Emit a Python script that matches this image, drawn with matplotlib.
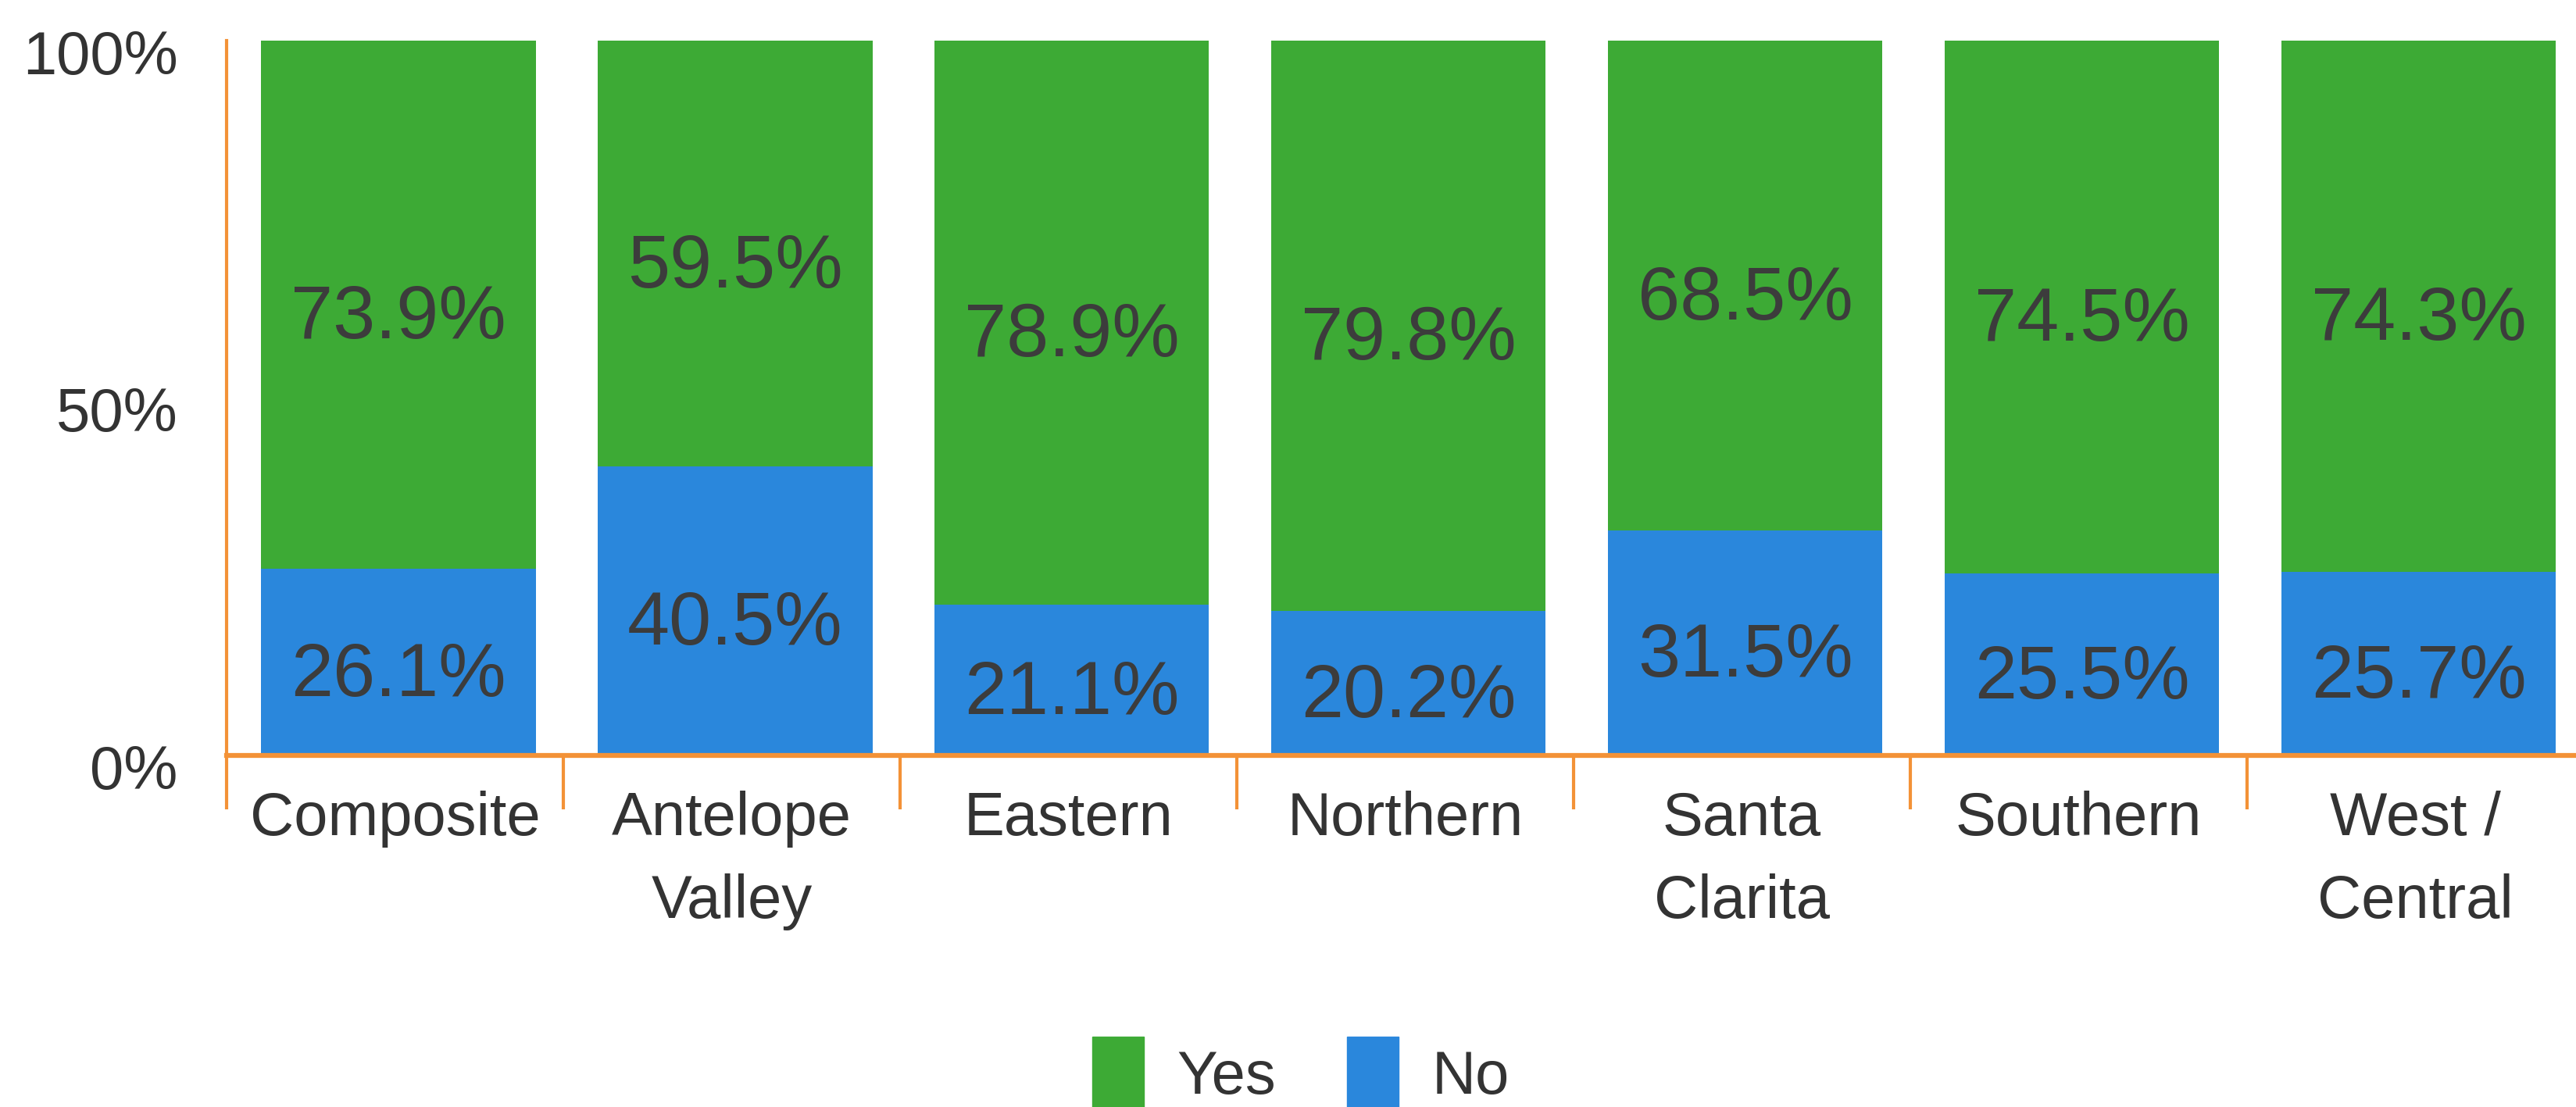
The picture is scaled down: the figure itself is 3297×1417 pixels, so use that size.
import matplotlib
matplotlib.use('Agg')
import matplotlib.pyplot as plt
import numpy as np
from matplotlib.patches import Patch
from matplotlib.ticker import FixedLocator
from matplotlib.transforms import ScaledTranslation

plt.rcParams['font.family'] = ['Liberation Sans', 'DejaVu Sans']

# data
regions = ['Composite', 'Antelope\nValley', 'Eastern', 'Northern',
           'Santa\nClarita', 'Southern', 'West /\nCentral']
yes_pct = [73.9, 59.5, 78.9, 79.8, 68.5, 74.5, 74.3]
no_pct = [26.1, 40.5, 21.1, 20.2, 31.5, 25.5, 25.7]

GREEN = '#3DAA35'
BLUE = '#2A87DC'
ORANGE = '#F39237'
TXT = '#333333'

fig = plt.figure(figsize=(32.97, 14.17), dpi=100)
ax = fig.add_axes([0.088, 0.3175, 0.915, 0.6455])

x = np.arange(len(regions))
w = 0.815
ax.bar(x + 0.01, no_pct, w, color=BLUE, label='No')
ax.bar(x + 0.01, yes_pct, w, bottom=no_pct, color=GREEN, label='Yes')

# value labels, nudged down a bit like the original
for i in range(len(regions)):
    ax.annotate(f'{no_pct[i]:.1f}%', (x[i] + 0.01, no_pct[i] / 2),
                xytext=(0, -13), textcoords='offset points',
                ha='center', va='center', fontsize=70, color='#3c3c3c')
    ax.annotate(f'{yes_pct[i]:.1f}%', (x[i] + 0.01, no_pct[i] + yes_pct[i] / 2),
                xytext=(0, -13), textcoords='offset points',
                ha='center', va='center', fontsize=70, color='#3c3c3c')

ax.set_xlim(-0.5, len(regions) - 0.5)
ax.set_ylim(0, 100)
ax.set_yticks([0, 50, 100])
ax.set_yticklabels(['0%', '50%', '100%'])
ax.set_xticks(x)
ax.set_xticklabels(regions, linespacing=1.58)
ax.xaxis.set_minor_locator(FixedLocator(np.arange(-0.5, len(regions), 1.0)))

ax.tick_params(axis='y', length=0, pad=45, labelsize=56, labelcolor=TXT)
ax.tick_params(axis='x', which='major', length=0, pad=32, labelsize=56, labelcolor=TXT)
ax.tick_params(axis='x', which='minor', length=50, width=3, color=ORANGE)

shift = ScaledTranslation(0, -0.14, fig.dpi_scale_trans)
for lab in ax.get_yticklabels():
    lab.set_transform(lab.get_transform() + shift)

for s in ['top', 'right']:
    ax.spines[s].set_visible(False)
ax.spines['bottom'].set_color(ORANGE)
ax.spines['bottom'].set_linewidth(4.5)
ax.spines['left'].set_color(ORANGE)
ax.spines['left'].set_linewidth(3)

handles = [Patch(color=GREEN, label='Yes'), Patch(color=BLUE, label='No')]
fig.legend(handles=handles, loc='center', bbox_to_anchor=(0.505, 0.03), ncol=2,
           frameon=False, fontsize=56, handlelength=0.85, handleheight=1.5,
           handletextpad=0.54, columnspacing=1.17, labelcolor=TXT)

fig.savefig('out.png', dpi=100, facecolor='white')
